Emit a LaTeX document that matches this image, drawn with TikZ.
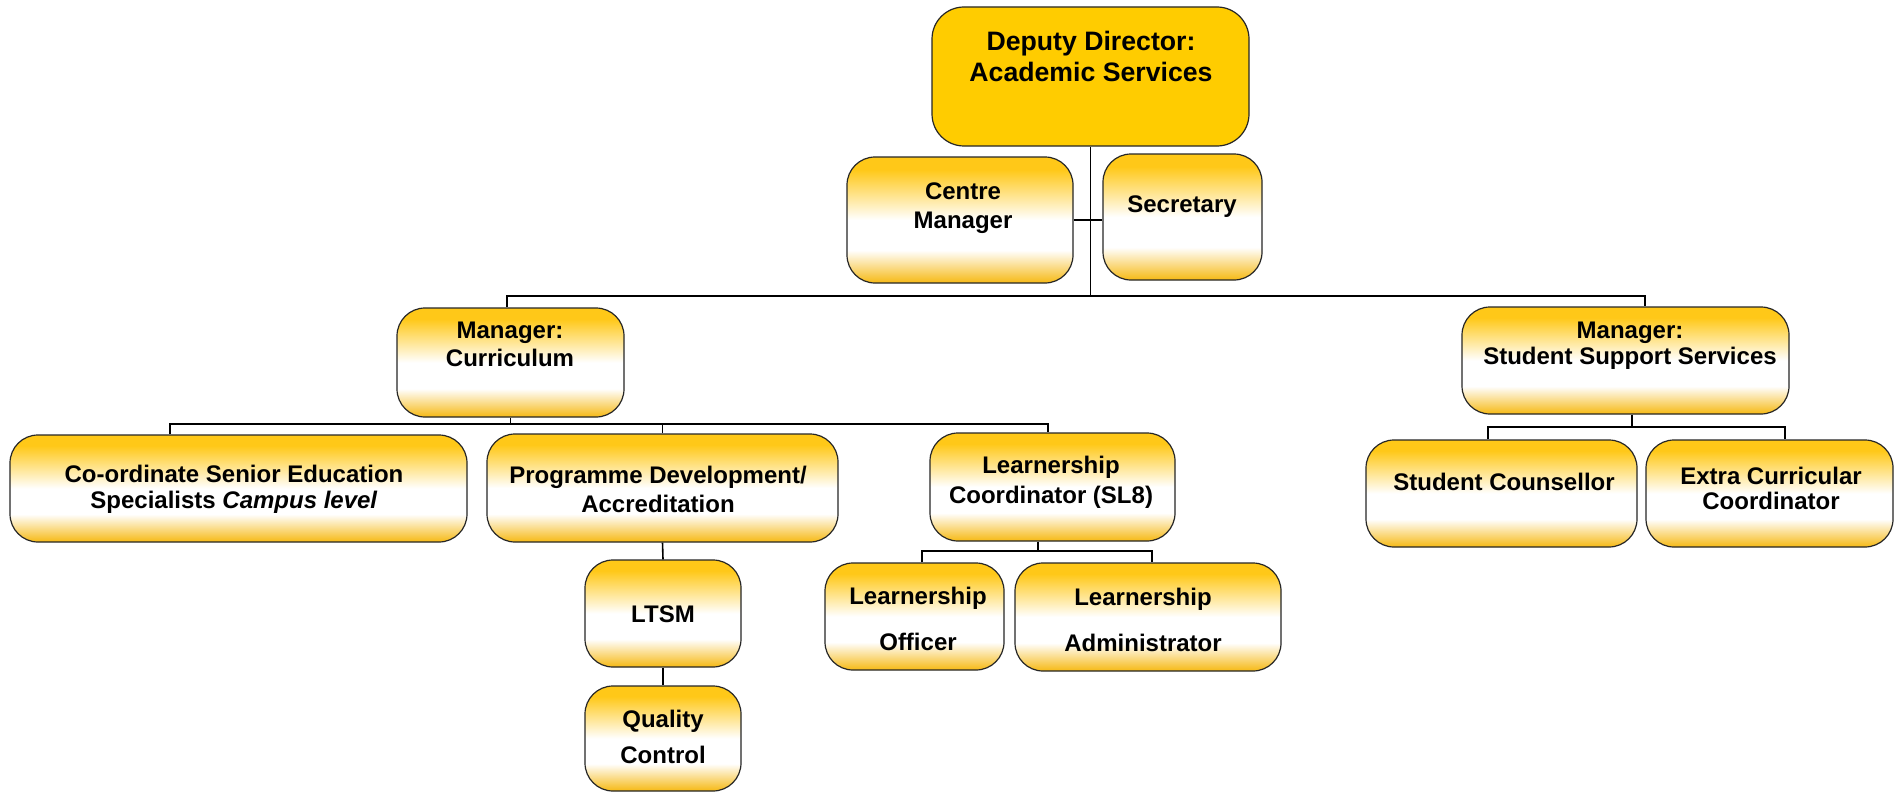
\documentclass[tikz,border=0pt]{standalone}
\usepackage{fontspec}
\setmainfont{Liberation Sans}
\usetikzlibrary{calc}

\definecolor{goldtop}{RGB}{255,200,24}
\definecolor{goldbot}{RGB}{246,185,20}
\definecolor{ddgold}{RGB}{255,204,0}
\pgfdeclareverticalshading{goldfade}{100bp}{color(0bp)=(goldbot); color(25bp)=(goldbot); color(38bp)=(white); color(50bp)=(white); color(70bp)=(goldtop); color(100bp)=(goldtop)}

\tikzset{
  box/.style={draw=black!85, line width=0.9pt, rounded corners=21pt, shade, shading=goldfade},
  topbox/.style={draw=black!85, line width=0.9pt, rounded corners=24pt, fill=ddgold},
  sz/.style 2 args={minimum width=#1*0.75pt, minimum height=#2*0.75pt, inner sep=0pt},
  txt/.style={font=\bfseries\fontsize{18}{21.5}\selectfont, align=center, anchor=base, inner sep=0pt},
  link/.style={line width=1.2pt},
}

\begin{document}
\begin{tikzpicture}[x=0.75pt,y=0.75pt,yscale=-1,xscale=1]
\useasboundingbox (0,0) rectangle (1898,792);

%Shape: Rounded boxes
\node[topbox, sz={317}{139}] (dd) at (1090.5,76.5) {};
\node[box, sz={226}{126}] (cm) at (960,220) {};
\node[box, sz={159}{126}] (sec) at (1182.5,217) {};
\node[box, sz={227}{109}] (mcur) at (510.5,362.5) {};
\node[box, sz={327}{107}] (msss) at (1625.5,360.5) {};
\node[box, sz={457}{107}] (cses) at (238.5,488.5) {};
\node[box, sz={351}{108}] (pda) at (662.5,488) {};
\node[box, sz={245}{108}] (lco) at (1052.5,487) {};
\node[box, sz={156}{107}] (ltsm) at (663,613.5) {};
\node[box, sz={156}{105}] (qc) at (663,738.5) {};
\node[box, sz={179}{107}] (lof) at (914.5,616.5) {};
\node[box, sz={266}{108}] (lad) at (1148,617) {};
\node[box, sz={271}{107}] (sco) at (1501.5,493.5) {};
\node[box, sz={247}{107}] (ecc) at (1769.5,493.5) {};

%Straight Lines
\coordinate (lvlL) at (507,296);
\coordinate (lvlR) at (1645,296);
\draw[link] (dd.south) -- (dd.south |- lvlL);
\draw[link] (cm.east) -- (cm.east -| sec.west);
\draw[link] (lvlL |- mcur.north) -- (lvlL) -- (lvlR) -- (lvlR |- msss.north);

\coordinate (cbarL) at (170,424);
\coordinate (cbarR) at (1048,424);
\draw[link] (mcur.south) -- (mcur.south |- cbarL);
\draw[link] (cbarL |- cses.north) -- (cbarL) -- (cbarR) -- (cbarR |- lco.north);
\draw[link] (pda.north) -- (pda.north |- cbarL);
\draw[link] (pda.south) -- (ltsm.north);
\draw[link] (ltsm.south) -- (qc.north);

\coordinate (lbarL) at (922,551);
\coordinate (lbarR) at (1152,551);
\coordinate (lbarS) at (1038,551);
\draw[link] (lbarS |- lco.south) -- (lbarS);
\draw[link] (lbarL |- lof.north) -- (lbarL) -- (lbarR) -- (lbarR |- lad.north);

\coordinate (sbarL) at (1488,427);
\coordinate (sbarR) at (1785,427);
\coordinate (sbarS) at (1632,427);
\draw[link] (sbarS |- msss.south) -- (sbarS);
\draw[link] (sbarL |- sco.north) -- (sbarL) -- (sbarR) -- (sbarR |- ecc.north);

% Text Node (base = last line)
\node[txt, font=\bfseries\fontsize{20}{24}\selectfont] (dd-t) at (1091,82) {Deputy Director:\\Academic Services};
\node[txt, font=\bfseries\fontsize{18}{21.75}\selectfont] (cm-t) at (963,228) {Centre\\Manager};
\node[txt] (sec-t) at (1182,212) {Secretary};
\node[txt, font=\bfseries\fontsize{18}{21}\selectfont] (mcur-t) at (510,366) {Manager:\\Curriculum};
\node[txt, font=\bfseries\fontsize{18}{19}\selectfont] (msss-t) at (1630,364) {Manager:\\Student Support Services};
\node[txt, font=\bfseries\fontsize{18}{19.5}\selectfont] (cses-t) at (234,508) {Co-ordinate Senior Education\\Specialists \textit{Campus level}};
\node[txt, font=\bfseries\fontsize{18}{21.75}\selectfont] (pda-t) at (658,512) {Programme Development/\\Accreditation};
\node[txt, font=\bfseries\fontsize{18}{22.5}\selectfont] (lco-t) at (1051,503) {Learnership\\Coordinator (SL8)};
\node[txt] (ltsm-t) at (663,622) {LTSM};
\node[txt, font=\bfseries\fontsize{18}{27}\selectfont] (qc-t) at (663,763) {Quality\\Control};
\node[txt, font=\bfseries\fontsize{18}{34}\selectfont] (lof-t) at (918,650) {Learnership\\Officer};
\node[txt, font=\bfseries\fontsize{18}{34.5}\selectfont] (lad-t) at (1143,651) {Learnership\\Administrator};
\node[txt] (sco-t) at (1504,490) {Student Counsellor};
\node[txt, font=\bfseries\fontsize{18}{18.75}\selectfont] (ecc-t) at (1771,509) {Extra Curricular\\Coordinator};

\end{tikzpicture}
\end{document}
